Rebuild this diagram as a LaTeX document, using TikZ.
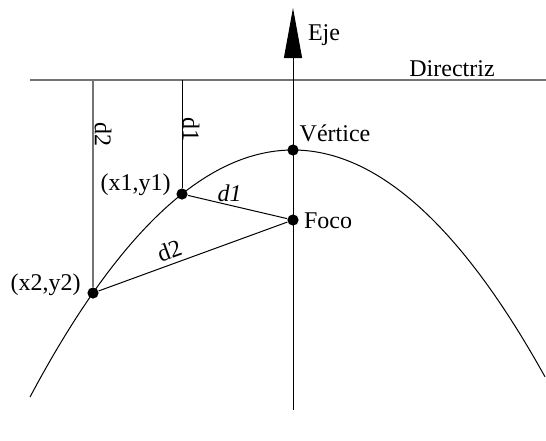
\documentclass[tikz,border=0pt]{standalone}
\usepackage{fontspec}
\setmainfont{Liberation Serif}
\usetikzlibrary{arrows.meta,positioning}

\begin{document}
\begin{tikzpicture}[
    x=0.5pt,
    y=-0.5pt,
    font=\fontsize{12}{14}\selectfont,
    punto/.style={circle, fill=black, inner sep=0pt, minimum size=5.6pt},
    linea/.style={draw=black, line width=0.5pt},
    guia/.style={draw=black!55, line width=0.8pt},
    etq/.style={inner sep=1.5pt}
  ]
    \useasboundingbox (0,0) rectangle (546,440);

    \coordinate (dirI) at (30,80);
    \coordinate (dirD) at (546,80);
    \coordinate (ejeB) at (293,410);
    \coordinate (ejeA) at (293,8);
    \coordinate (p1top) at (182,80);
    \coordinate (p2top) at (93,80);

    \node[punto] (v) at (293,150) {};
    \node[punto] (f) at (293,220) {};
    \node[punto] (p1) at (182,194) {};
    \node[punto] (p2) at (93,293) {};

    % directriz y eje
    \draw[guia] (dirI) -- (dirD);
    \draw[linea, -{Triangle[length=25pt, width=9pt]}] (ejeB) -- (ejeA);

    % parabola
    \draw[linea] plot[domain=30:545, samples=120] (\x, {150+((\x-293)/10)^2/2.8});

    \draw[linea] (p1top) -- (p1);
    \draw[guia] (p2top) -- (p2);
    \draw[linea] (p1) -- node[etq, above, pos=0.42] {\itshape d1} (f);
    \draw[linea] (p2) -- node[etq, above=1pt, sloped, pos=0.4] {d2} (f);

    \node[etq] (eje) at (324,35) {Eje};
    \node[etq] (dir) at (452,69) {Directriz};
    \node[etq] (vert) at (335,133) {Vértice};
    \node[etq] (foco) at (328,221) {Foco};
    \node[etq, anchor=east] (lp1) at (174,185) {(x1,y1)};
    \node[etq, anchor=east] (lp2) at (84,285) {(x2,y2)};
    \node[etq, rotate=-90] (ld1) at (191,129) {d1};
    \node[etq, rotate=-90] (ld2) at (103,134) {d2};
\end{tikzpicture}
\end{document}
